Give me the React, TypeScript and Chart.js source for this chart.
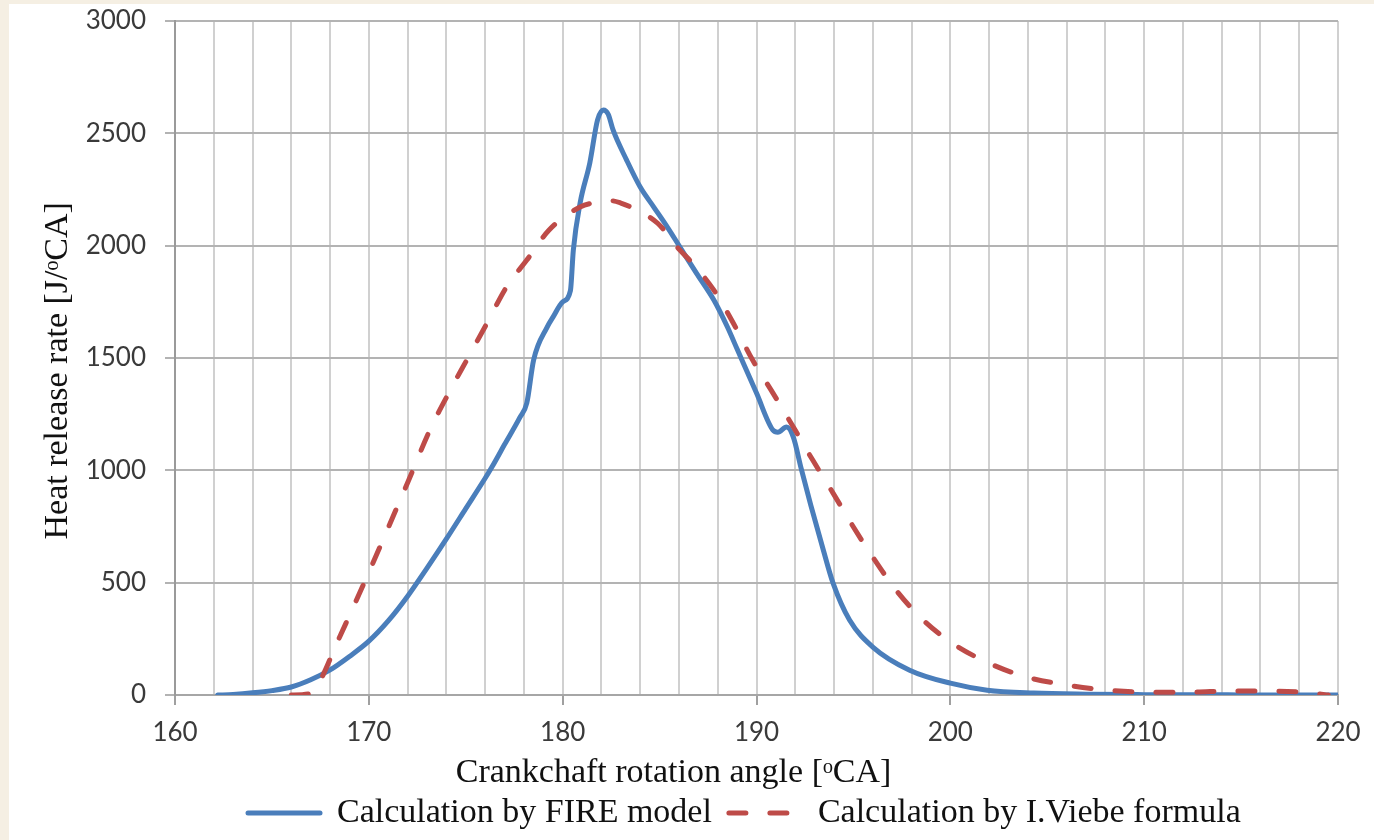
import { useEffect, useRef } from 'react';
import { Chart, registerables } from 'chart.js';

Chart.register(...registerables);

// FIRE model heat release rate
const fireAngles = [162.2, 163, 164, 165, 166, 167, 168, 169, 170, 171, 172, 173, 174, 175, 176, 176.35, 177, 177.8, 178.15, 178.5, 179.2, 179.5, 180, 180.4, 180.55, 180.9, 181.4, 181.8, 182.1, 182.35, 182.6, 183.3, 184, 184.7, 185.4, 186.05, 186.9, 187.8, 188.5, 189, 190, 190.85, 191.1, 191.55, 191.9, 192.3, 192.8, 193.4, 193.95, 194.8, 196, 197.9, 200, 201.9, 204.3, 207, 210, 215, 220];
const fireValues = [0, 3, 10, 20, 36, 68, 112, 172, 240, 330, 440, 565, 695, 830, 965, 1015, 1115, 1237, 1300, 1491, 1638, 1682, 1750, 1800, 1980, 2190, 2368, 2560, 2604, 2585, 2515, 2381, 2261, 2172, 2083, 1994, 1878, 1758, 1638, 1540, 1344, 1179, 1170, 1193, 1148, 1010, 845, 660, 498, 334, 214, 111, 53, 22, 9, 4, 2, 1, 0];

// I.Viebe formula heat release rate
const viebeAngles = [166, 166.9, 167.5, 168.35, 169.2, 170.05, 171, 172, 173.15, 174.2, 175.05, 176.1, 177.1, 178.15, 179.3, 180.9, 181.8, 182.5, 183.0, 183.6, 184.9, 186.05, 186.7, 187.8, 188.8, 189.8, 190.85, 191.9, 192.9, 193.95, 195, 196, 197.2, 198.6, 200.1, 202, 203.95, 206, 208.1, 210.2, 212.4, 214.4, 216.5, 218.7, 219.5];
const viebeValues = [0, 5, 67, 231, 392, 556, 745, 945, 1180, 1357, 1491, 1656, 1816, 1936, 2070, 2172, 2194, 2200, 2190, 2168, 2100, 1980, 1922, 1802, 1656, 1491, 1344, 1193, 1046, 899, 748, 614, 467, 334, 231, 142, 80, 45, 22, 13, 13, 18, 18, 9, 0];

const seriesLabels = ['Calculation by FIRE model', 'Calculation by I.Viebe formula'];
const xTitle = 'Crankchaft rotation angle [ᵒCA]';
const yTitle = 'Heat release rate [J/ᵒCA]';
const xMin = 160, xMax = 220, xGridStep = 2, xLabelStep = 10;
const yMin = 0, yMax = 3000, yStep = 500;

const SERIF = "'Liberation Serif', 'Times New Roman', serif";
const SANS = "Lato, 'Open Sans', sans-serif";

export default function App() {
  const ref = useRef<HTMLCanvasElement>(null);

  useEffect(() => {
    const legendStartX = 239;
    const legendPadding = 17;
    const shiftLegend = {
      id: 'shiftLegend',
      afterLayout(chart: any) {
        if (chart.legend) {
          chart.legend.left = legendStartX - legendPadding;
        }
      },
    };
    const chart = new Chart(ref.current!, {
      type: 'line',
      data: {
        datasets: [
          {
            label: seriesLabels[0],
            data: fireAngles.map((a, i) => ({ x: a, y: fireValues[i] })),
            borderColor: '#4A7EBB',
            backgroundColor: '#4A7EBB',
            borderWidth: 5,
            borderCapStyle: 'round',
            borderJoinStyle: 'round',
            pointRadius: 0,
            cubicInterpolationMode: 'monotone',
            order: 1,
          },
          {
            label: seriesLabels[1],
            data: viebeAngles.map((a, i) => ({ x: a, y: viebeValues[i] })),
            borderColor: '#BE4B48',
            backgroundColor: '#BE4B48',
            borderWidth: 5,
            borderDash: [17, 24],
            borderCapStyle: 'round',
            pointRadius: 0,
            cubicInterpolationMode: 'monotone',
            order: 0,
          },
        ],
      },
      options: {
        responsive: false,
        animation: false,
        layout: { padding: { left: 0, right: 36, top: 0, bottom: 0 } },
        scales: {
          x: {
            type: 'linear',
            min: xMin,
            max: xMax,
            ticks: {
              stepSize: xGridStep,
              maxTicksLimit: 200,
              autoSkip: false,
              maxRotation: 0,
              callback: (v: any) => (Number(v) % xLabelStep === 0 ? String(v) : ''),
              font: { family: SANS, size: 26, lineHeight: 1 },
              color: '#3a3a3a',
              padding: 15,
            },
            grid: {
              color: '#d0d0d0',
              lineWidth: 2,
              tickLength: 10,
              tickWidth: 2,
              tickColor: (ctx: any) =>
                ctx.tick && Number(ctx.tick.value) % xLabelStep === 0 ? '#a0a0a0' : 'rgba(0,0,0,0)',
            },
            border: { color: '#a6a6a6', width: 2 },
            afterFit: (s: any) => {
              s.paddingLeft = 0;
              s.paddingRight = 0;
            },
          },
          y: {
            min: yMin,
            max: yMax,
            ticks: {
              stepSize: yStep,
              callback: (v: any) => String(v),
              font: { family: SANS, size: 26 },
              color: '#3a3a3a',
              padding: 19,
            },
            grid: {
              color: '#b3b3b3',
              lineWidth: 2,
              tickLength: 10,
              tickColor: '#b3b3b3',
              tickWidth: 2,
            },
            border: { color: '#9a9a9a', width: 2 },
            title: {
              display: true,
              text: yTitle + '\u00a0\u00a0\u00a0',
              font: { family: SERIF, size: 34 },
              color: '#111',
              padding: { top: 28.6, bottom: 0 },
            },
            afterFit: (s: any) => {
              s.width = 166;
              s.paddingTop = 17;
              s.paddingBottom = 0;
            },
          },
        },
        plugins: {
          title: {
            display: true,
            text: xTitle,
            position: 'bottom',
            align: 'center',
            weight: 500,
            font: { family: SERIF, size: 34, lineHeight: 0.35, weight: 'normal' },
            color: '#111',
            padding: { top: 6, bottom: 0 },
          },
          legend: {
            position: 'bottom',
            align: 'start',
            labels: {
              usePointStyle: true,
              pointStyle: 'line',
              pointStyleWidth: 72,
              padding: legendPadding,
              font: { family: SERIF, size: 34 },
              color: '#111',
              sort: (a: any, b: any) => a.datasetIndex - b.datasetIndex,
              generateLabels: (c: any) => {
                const items = (Chart.defaults as any).plugins.legend.labels.generateLabels(c);
                return items.map((it: any) => {
                  const ds = c.data.datasets[it.datasetIndex];
                  return {
                    ...it,
                    lineDash: ds.borderDash || [],
                    lineWidth: ds.borderWidth,
                    strokeStyle: ds.borderColor,
                    lineCap: ds.borderCapStyle,
                  };
                });
              },
            },
          },
          tooltip: { enabled: false },
        },
      },
      plugins: [shiftLegend],
    } as any);
    return () => chart.destroy();
  }, []);

  return (
    <div style={{ position: 'absolute', left: 0, top: 0, width: 1374, height: 840, background: '#f5efe3', overflow: 'hidden' }}>
      <div style={{ position: 'absolute', left: 9, top: 4, width: 1365, height: 836, background: '#ffffff' }}>
        <canvas ref={ref} width={1365} height={836} style={{ display: 'block', width: 1365, height: 836 }} />
      </div>
    </div>
  );
}
